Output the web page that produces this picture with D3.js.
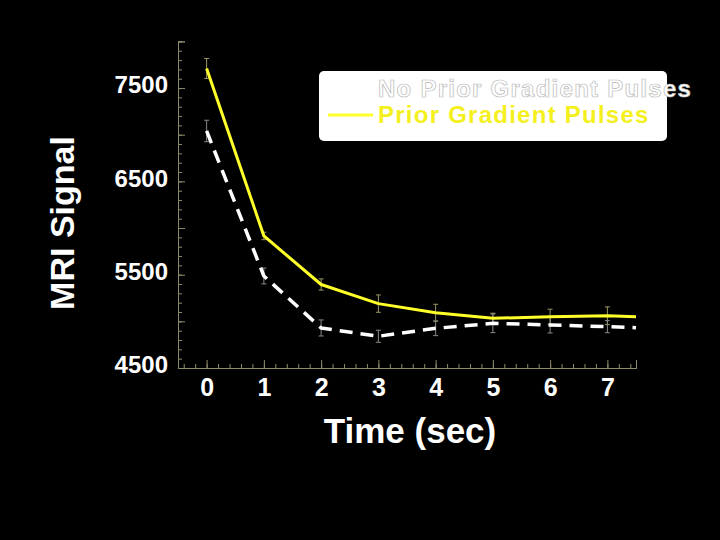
<!DOCTYPE html>
<html>
<head>
<meta charset="utf-8">
<script src="https://cdnjs.cloudflare.com/ajax/libs/d3/7.8.5/d3.min.js"></script>
<style>
    body { margin: 0; background: #000; }
    svg { display: block; background: #000; }
    text { font-family: "Liberation Sans", Arial, sans-serif; font-weight: bold; }
</style>
</head>
<body>
<svg id="chart" width="720" height="540"></svg>
<script>
// time points (sec); the traces run on to 7.5
const times = [0, 1, 2, 3, 4, 5, 6, 7, 7.5];
const priorPulses = [7710, 5915, 5395, 5190, 5093, 5032, 5050, 5060, 5050];
const priorErr = [107, 40, 60, 93, 90, 55, 80, 95, null];
const noPriorPulses = [7040, 5486, 4929, 4840, 4925, 4979, 4961, 4943, 4932];
const noPriorErr = [115, 85, 86, 65, 78, 100, 86, 65, null];
const xTickLabels = [0, 1, 2, 3, 4, 5, 6, 7];
const yTickLabels = [4500, 5500, 6500, 7500];
const seriesNames = ["No Prior Gradient Pulses", "Prior Gradient Pulses"];

const svg = d3.select('#chart');
const axisColor = "#8c8a68";

const x = d3.scaleLinear().domain([-0.5, 7.5]).range([178, 636]);
const y = d3.scaleLinear().domain([4500, 8000]).range([368, 41.4]);

// y axis: minor every 100, longer at every 500, labels at 1000s
const renderYAxis = function() {
    svg.append("g")
        .attr("transform", `translate(${x(-0.5)},0)`)
        .call(d3.axisLeft(y).tickValues(d3.range(4500, 8001, 100)).tickSize(-4).tickFormat(""))
        .call(g => g.selectAll("path,line").attr("stroke", axisColor));
    const major = svg.append("g")
        .attr("transform", `translate(${x(-0.5)},0)`)
        .call(d3.axisLeft(y).tickValues(d3.range(4500, 8001, 500)).tickSize(-7).tickPadding(10)
            .tickFormat(d => yTickLabels.includes(d) ? d : ""));
    major.selectAll("path,line").attr("stroke", axisColor);
    major.selectAll("text")
        .attr("fill", "#fff")
        .attr("font-size", 24)
        .attr("font-family", "Liberation Sans, Arial, sans-serif")
        .attr("font-weight", "bold")
        .attr("dy", "0.2em");
}

const renderXAxis = function() {
    svg.append("g")
        .attr("transform", `translate(0,${y(4500)})`)
        .call(d3.axisBottom(x).tickValues(d3.range(-0.4, 7.45, 0.2)).tickSize(-4).tickFormat(""))
        .call(g => g.selectAll("path,line").attr("stroke", axisColor));
    const major = svg.append("g")
        .attr("transform", `translate(0,${y(4500)})`)
        .call(d3.axisBottom(x).tickValues(xTickLabels).tickSize(-8).tickPadding(10).tickFormat(d3.format("d")));
    major.selectAll("path,line").attr("stroke", axisColor);
    major.selectAll("text")
        .attr("fill", "#fff")
        .attr("font-size", 25)
        .attr("font-family", "Liberation Sans, Arial, sans-serif")
        .attr("font-weight", "bold");
}

const renderErrorBars = function(values, errs, color) {
    const g = svg.append("g").attr("stroke", color).attr("stroke-width", 1);
    times.forEach(function(t, i) {
        if (errs[i] == null) return;
        const top = y(values[i] + errs[i]);
        const bottom = y(values[i] - errs[i]);
        g.append("line").attr("x1", x(t)).attr("x2", x(t)).attr("y1", top).attr("y2", bottom);
        g.append("line").attr("x1", x(t) - 2.5).attr("x2", x(t) + 2.5).attr("y1", top).attr("y2", top);
        g.append("line").attr("x1", x(t) - 2.5).attr("x2", x(t) + 2.5).attr("y1", bottom).attr("y2", bottom);
    });
}

const renderLine = function(values, color, width, dash) {
    const line = d3.line().x((d, i) => x(times[i])).y(d => y(d));
    svg.append("path")
        .datum(values)
        .attr("d", line)
        .attr("fill", "none")
        .attr("stroke", color)
        .attr("stroke-width", width)
        .attr("stroke-dasharray", dash)
        .attr("stroke-linejoin", "round");
}

const renderLegend = function() {
    svg.append("rect")
        .attr("x", 319)
        .attr("y", 71)
        .attr("width", 348)
        .attr("height", 70)
        .attr("rx", 5)
        .attr("fill", "#fff");
    // white dashed sample on white box
    svg.append("line")
        .attr("x1", 328).attr("x2", 373).attr("y1", 90).attr("y2", 90)
        .attr("stroke", "#fff").attr("stroke-width", 3).attr("stroke-dasharray", "13,8");
    svg.append("text")
        .attr("x", 378)
        .attr("y", 97)
        .attr("font-size", 24)
        .attr("letter-spacing", 1.25)
        .attr("fill", "#fff")
        .attr("stroke", "#b8b8b8")
        .attr("stroke-width", 0.7)
        .text(seriesNames[0]);
    svg.append("line")
        .attr("x1", 328).attr("x2", 373).attr("y1", 115).attr("y2", 115)
        .attr("stroke", "#ffff2a").attr("stroke-width", 3);
    svg.append("text")
        .attr("x", 378)
        .attr("y", 123)
        .attr("font-size", 24)
        .attr("letter-spacing", 1.25)
        .attr("fill", "#f4f01e")
        .text(seriesNames[1]);
}

const renderTitles = function() {
    svg.append("text")
        .attr("x", 410)
        .attr("y", 443)
        .attr("text-anchor", "middle")
        .attr("font-size", 35)
        .attr("fill", "#fff")
        .text("Time (sec)");
    svg.append("text")
        .attr("transform", "translate(74,223) rotate(-90)")
        .attr("text-anchor", "middle")
        .attr("font-size", 34)
        .attr("fill", "#fff")
        .text("MRI Signal");
}

renderYAxis();
renderXAxis();
renderErrorBars(priorPulses, priorErr, "#9a9660");
renderErrorBars(noPriorPulses, noPriorErr, "#8a8a84");
renderLine(noPriorPulses, "#fff", 3.5, "13,8");
renderLine(priorPulses, "#ffff2a", 3, null);
renderLegend();
renderTitles();
</script>
</body>
</html>
